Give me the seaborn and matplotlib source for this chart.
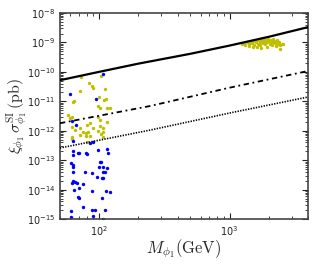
import numpy as np
import pandas as pd
import matplotlib
matplotlib.use("Agg")
import matplotlib.pyplot as plt
import seaborn as sns

# ---- data ----
# low-mass yellow points
y_low_M = [72.9, 83.9, 103.6, 71.6, 64.4, 63.3, 111.1, 100.0, 109.2, 113.0,
           98.3, 101.8, 115.0, 121.0, 57.9, 60.1, 62.2, 81.0, 85.3, 98.3,
           101.8, 115.0, 62.2, 65.5, 71.6, 75.5, 82.5, 90.0, 101.8, 107.3,
           107.3, 62.2, 62.2, 71.6, 79.6, 79.6, 85.3, 98.3, 103.6, 107.3, 81.0,
           88.0, 90.0]
y_low_S = [6.6e-11, 4.2e-11, 7.2e-11, 2.2e-11, 1.0e-11, 9.3e-12, 2.6e-11, 1.4e-11, 1.1e-11, 1.2e-11,
           6.9e-12, 5.9e-12, 5.9e-12, 5.9e-12, 3.4e-12, 2.7e-12, 2.9e-12, 1.55e-12, 1.8e-12, 2.9e-12,
           2.3e-12, 1.95e-12, 1.3e-12, 1.05e-12, 1.2e-12, 8.9e-13, 8.9e-13, 1.2e-12, 1.45e-12, 1.2e-12,
           8.9e-13, 6.0e-13, 5.1e-13, 7.1e-13, 8.3e-13, 6.6e-13, 6.6e-13, 9.8e-13, 7.6e-13, 6.0e-13, 4.1e-13,
           3.2e-11, 2.8e-11]
# high-mass yellow cluster
y_high_M = [1250, 1300, 1320, 1380, 1400, 1420, 1450, 1480, 1500, 1520,
            1550, 1580, 1600, 1620, 1650, 1680, 1700, 1720, 1750, 1780,
            1800, 1820, 1850, 1870, 1900, 1920, 1950, 1980, 2000, 2030,
            2060, 2100, 2130, 2160, 2200, 2230, 2270, 2300, 2350, 2400,
            2450, 2500, 2560, 2450, 1350, 1560, 1760, 1960, 2150, 2320]
y_high_S = [8.5e-10, 9.5e-10, 8.0e-10, 1.0e-9, 8.8e-10, 7.5e-10, 1.05e-9, 9.2e-10, 6.8e-10, 1.1e-9,
            8.2e-10, 1.0e-9, 1.15e-9, 7.2e-10, 9.0e-10, 1.2e-9, 1.05e-9, 8.0e-10, 6.5e-10, 1.25e-9,
            9.5e-10, 1.1e-9, 1.3e-9, 8.5e-10, 1.2e-9, 1.0e-9, 7.0e-10, 1.35e-9, 1.15e-9, 9.0e-10,
            1.25e-9, 1.05e-9, 8.0e-10, 1.3e-9, 1.15e-9, 9.5e-10, 7.5e-10, 1.1e-9, 9.0e-10, 1.0e-9,
            8.2e-10, 9.0e-10, 8.5e-10, 5.8e-10, 1.05e-9, 1.12e-9, 1.08e-9, 1.22e-9, 1.0e-9, 1.2e-9]
# blue points
b_M = [107.3, 60.1, 94.9, 66.7, 62.2, 63.3, 63.3, 63.3, 69.1, 70.3,
       79.6, 81.0, 85.3, 90.0, 98.3, 115.0, 117.0, 61.0, 63.3, 63.3,
       63.3, 78.2, 88.4, 96.6, 101.8, 103.6, 100.0, 107.3, 107.3, 111.0,
       115.0, 107.3, 105.4, 62.2, 63.3, 65.5, 67.9, 75.5, 64.4, 70.3,
       88.4, 113.0, 121.0, 69.1, 70.3, 105.4, 75.5, 88.4, 93.3, 111.0,
       61.0, 61.0, 90.0, 107.0]
b_S = [8.5e-11, 1.74e-11, 1.17e-11, 1.55e-12, 2.1e-12, 4.4e-13, 2.0e-13, 1.5e-13, 1.7e-13, 1.75e-13,
       1.7e-13, 1.6e-13, 3.8e-13, 4.1e-13, 2.2e-13, 2.4e-13, 1.7e-13, 7.9e-14, 6.8e-14, 5.8e-14,
       3.9e-14, 3.9e-14, 3.6e-14, 2.6e-14, 8.5e-14, 8.9e-14, 5.8e-14, 5.8e-14, 3.9e-14, 3.9e-14,
       5.4e-14, 2.5e-14, 2.4e-14, 1.66e-14, 1.95e-14, 1.8e-14, 1.66e-14, 1.5e-14, 1.0e-14, 1.1e-14,
       8.9e-15, 8.9e-15, 8.1e-15, 5.5e-15, 5.1e-15, 5.1e-15, 2.5e-15, 2.0e-15, 2.0e-15, 2.1e-15,
       1.86e-15, 1.15e-15, 1.26e-15, 1.02e-15]
# limit curves
solid_M = [50, 100, 200, 500, 1000, 2000, 4000]
solid_S = [5.2e-11, 1.0e-10, 1.9e-10, 4.1e-10, 7.8e-10, 1.55e-9, 3.3e-9]
dashdot_M = [50, 245, 1000, 4000]
dashdot_S = [1.8e-12, 6.9e-12, 2.9e-11, 1.07e-10]
dotted_M = [50, 245, 1000, 4000]
dotted_S = [2.6e-13, 1.05e-12, 4.0e-12, 1.4e-11]

sns.set_style("ticks")
plt.rcParams['mathtext.fontset'] = 'cm'
plt.rcParams['font.family'] = ['DejaVu Sans']

fig = plt.figure(figsize=(3.17, 2.64), dpi=100)
ax = fig.add_axes([0.189, 0.170, 0.783, 0.781])

df_y = pd.DataFrame({"M": y_low_M + y_high_M, "S": y_low_S + y_high_S})
df_b = pd.DataFrame({"M": b_M, "S": b_S})
sns.scatterplot(data=df_y, x="M", y="S", color=(0.75, 0.75, 0), s=6,
                linewidth=0, ax=ax, zorder=2)
sns.scatterplot(data=df_b, x="M", y="S", color=(0, 0, 1), s=6,
                linewidth=0, ax=ax, zorder=2)

sns.lineplot(x=solid_M, y=solid_S, color='black', lw=1.6, ax=ax, zorder=3)
sns.lineplot(x=dashdot_M, y=dashdot_S, color='black', lw=1.3, ax=ax, zorder=3,
             linestyle=(0, (3, 2, 1, 2)))
sns.lineplot(x=dotted_M, y=dotted_S, color='black', lw=1.2, ax=ax, zorder=3,
             linestyle=(0, (0.8, 0.8)))

ax.set_xscale('log')
ax.set_yscale('log')
ax.set_xlim(50, 4000)
ax.set_ylim(1e-15, 1e-8)
ax.set_yticks([10.0**k for k in range(-15, -7)])
ax.set_xticks([100, 1000])
ax.tick_params(which='both', direction='in', top=True, right=True,
               labelsize=7, colors='#222222')
ax.tick_params(which='major', length=4, width=0.8)
ax.tick_params(which='minor', length=2, width=0.6)
for sp in ax.spines.values():
    sp.set_color('#444444')
    sp.set_linewidth(1.2)

ax.set_xlabel(r'$M_{\phi_1}(\mathrm{GeV})$', fontsize=12, labelpad=0)
ax.set_ylabel(r'$\xi_{\phi_1}\,\sigma^{\mathrm{SI}}_{\phi_1}\,(\mathrm{pb})$',
              fontsize=11.5)
ax.yaxis.set_label_coords(-0.125, 0.5)

fig.savefig('out.png', dpi=100)
